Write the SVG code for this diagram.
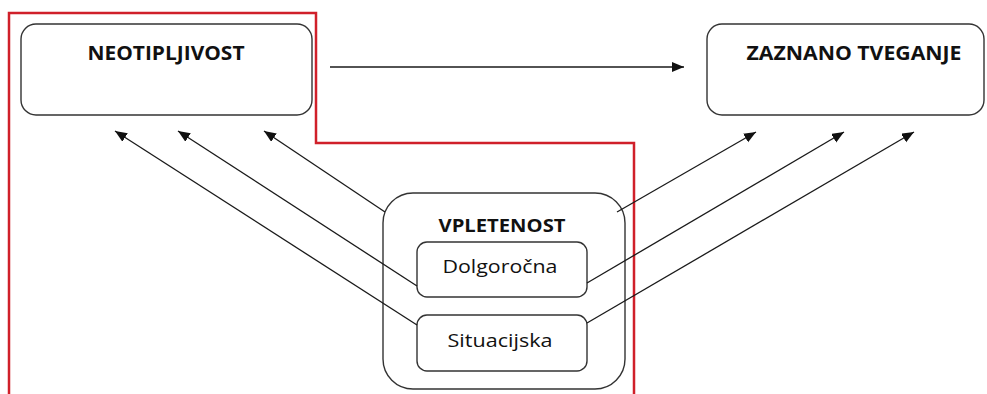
<svg xmlns="http://www.w3.org/2000/svg" width="987" height="394" viewBox="0 0 987 394">
<style>
.box{fill:#fff;stroke:#333;stroke-width:1.4}
.lbl{font-family:"Open Sans","Liberation Sans",sans-serif;fill:#111;text-anchor:middle}
.b{font-weight:bold}
.con{stroke:#1a1a1a;stroke-width:1.3;fill:none;marker-end:url(#ah)}
</style>
<defs>
<marker id="ah" markerUnits="userSpaceOnUse" markerWidth="14" markerHeight="12" refX="12" refY="5" orient="auto">
<path d="M0,0 L12,5 L0,10 Z" fill="#111"/>
</marker>
</defs>
<rect width="987" height="394" fill="#fff"/>
<path d="M9,394 V13 H316 V143 H634 V394" fill="none" stroke="#d0202a" stroke-width="2.5"/>
<g id="neotipljivost">
<rect class="box" x="21" y="24" width="291" height="91" rx="15"/>
<text class="lbl b" x="166" y="60" font-size="20" textLength="157" lengthAdjust="spacingAndGlyphs">NEOTIPLJIVOST</text>
</g>
<g id="zaznano">
<rect class="box" x="707" y="24" width="277" height="91" rx="15"/>
<text class="lbl b" x="854" y="60" font-size="20" textLength="215" lengthAdjust="spacingAndGlyphs">ZAZNANO TVEGANJE</text>
</g>
<g id="vpletenost">
<rect class="box" x="383" y="193" width="242" height="196" rx="30"/>
<text class="lbl b" x="502" y="232" font-size="18" textLength="127" lengthAdjust="spacingAndGlyphs">VPLETENOST</text>
</g>
<g id="dolgorocna">
<rect class="box" x="417" y="242" width="170" height="55" rx="10"/>
<text class="lbl" x="500" y="273" font-size="18" textLength="115" lengthAdjust="spacingAndGlyphs">Dolgoročna</text>
</g>
<g id="situacijska">
<rect class="box" x="417" y="315" width="170" height="56" rx="10"/>
<text class="lbl" x="500" y="347" font-size="18" textLength="105" lengthAdjust="spacingAndGlyphs">Situacijska</text>
</g>
<g id="connectors">
<line class="con" x1="330" y1="67" x2="684" y2="67"/>
<line class="con" x1="385" y1="212" x2="264" y2="131"/>
<line class="con" x1="417" y1="286" x2="178" y2="131"/>
<line class="con" x1="417" y1="325" x2="115" y2="131"/>
<line class="con" x1="617" y1="212" x2="756" y2="132"/>
<line class="con" x1="587" y1="283" x2="844" y2="132"/>
<line class="con" x1="587" y1="323" x2="914" y2="132"/>
</g>
</svg>
